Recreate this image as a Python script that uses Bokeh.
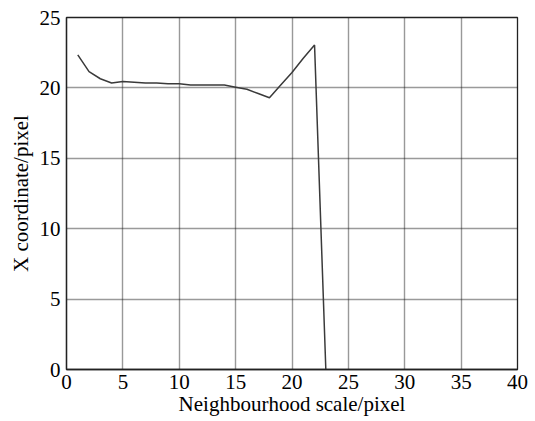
from bokeh.plotting import figure
from bokeh.models import Range1d, FixedTicker
from bokeh.embed import file_html
from bokeh.resources import INLINE

# Data
scale = [1, 2, 3, 4, 5, 6, 7, 8, 9, 10, 11, 12, 13, 14, 15, 16, 17, 18, 19, 20, 21, 22, 23]
x_coord = [22.35, 21.15, 20.65, 20.35, 20.45, 20.4, 20.35, 20.35, 20.3, 20.3, 20.2, 20.2,
           20.2, 20.2, 20.05, 19.9, 19.6, 19.3, 20.2, 21.1, 22.1, 23.05, 0.0]
x_ticks = [0, 5, 10, 15, 20, 25, 30, 35, 40]
y_ticks = [0, 5, 10, 15, 20, 25]
x_label = "Neighbourhood scale/pixel"
y_label = "X coordinate/pixel"

FONT = "Liberation Serif"
FS = "21px"

p = figure(width=535, height=421, output_backend="svg", toolbar_location=None,
           x_range=Range1d(0, 40), y_range=Range1d(0, 25),
           min_border_left=66, min_border_right=18, min_border_top=17, min_border_bottom=52)

p.background_fill_color = "white"
p.border_fill_color = "white"
p.outline_line_color = "#222222"
p.outline_line_width = 1.3

p.line(scale, x_coord, line_color="#3a3a3a", line_width=1.5)

for ax in (p.xaxis[0], p.yaxis[0]):
    ax.major_label_text_font = FONT
    ax.major_label_text_font_size = FS
    ax.major_label_text_color = "black"
    ax.axis_label_text_font = FONT
    ax.axis_label_text_font_size = FS
    ax.axis_label_text_font_style = "normal"
    ax.axis_label_text_color = "black"
    ax.major_tick_in = 0
    ax.major_tick_out = 0
    ax.minor_tick_in = 0
    ax.minor_tick_out = 0
    ax.axis_line_color = "#222222"
    ax.axis_line_width = 1.3
p.xaxis[0].ticker = FixedTicker(ticks=x_ticks)
p.yaxis[0].ticker = FixedTicker(ticks=y_ticks)
p.xaxis[0].major_label_standoff = 5
p.yaxis[0].major_label_standoff = 6
p.xaxis[0].axis_label = x_label
p.yaxis[0].axis_label = y_label
p.xaxis[0].axis_label_standoff = 0
p.yaxis[0].axis_label_standoff = 4

for g in (p.xgrid[0], p.ygrid[0]):
    g.grid_line_color = "#111111"
    g.grid_line_dash = "1 1"
    g.grid_line_width = 1.4
    g.grid_line_alpha = 0.85
p.xgrid[0].ticker = FixedTicker(ticks=x_ticks)
p.ygrid[0].ticker = FixedTicker(ticks=y_ticks)

open("out.html", "w").write(file_html(p, INLINE))
